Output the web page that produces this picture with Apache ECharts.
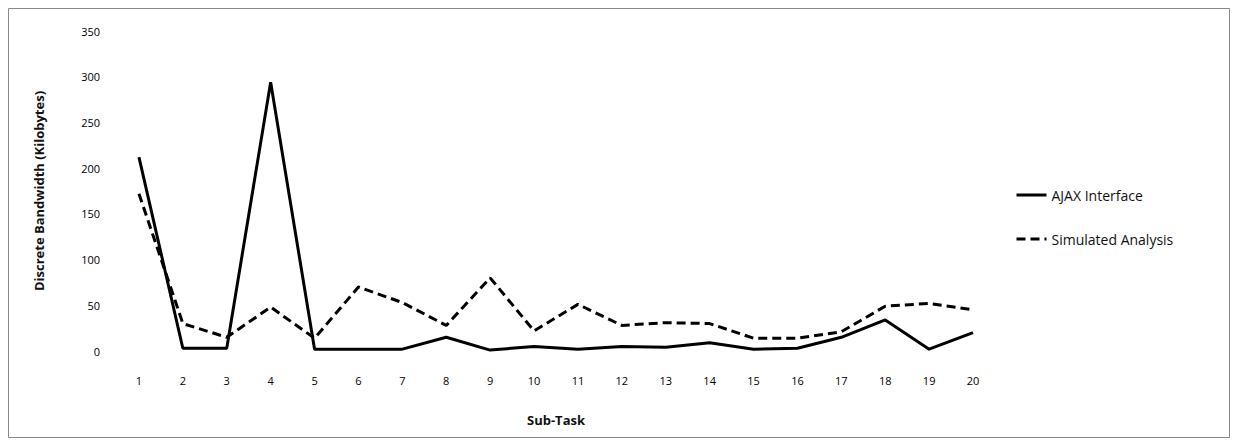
<!DOCTYPE html>
<html>
<head>
<meta charset="utf-8">
<script src="https://cdn.jsdelivr.net/npm/echarts@6/dist/echarts.min.js"></script>
<style>
  html, body { margin: 0; padding: 0; background: #fff; }
  #chart { width: 1238px; height: 443px; }
</style>
</head>
<body>
<div id="chart"></div>
<script>
// sub-task categories and bandwidth (KB)
const subTasks = ["1","2","3","4","5","6","7","8","9","10","11","12","13","14","15","16","17","18","19","20"];
const ajaxInterface = [212, 3, 3, 294, 2, 2, 2, 15, 1, 5, 2, 5, 4, 9, 2, 3, 15, 34, 2, 20];
const simulatedAnalysis = [172, 30, 15, 48, 14, 70, 53, 28, 80, 22, 51, 28, 31, 30, 14, 14, 21, 49, 52, 45];
const yTicks = { min: 0, max: 350, interval: 50 };

const font = "'Open Sans', 'Noto Sans', sans-serif";
const chart = echarts.init(document.getElementById("chart"), null, { renderer: "svg" });

chart.setOption({
  animation: false,
  backgroundColor: "#fff",
  textStyle: { fontFamily: font, color: "#111" },
  graphic: [{
    type: "rect",
    shape: { x: 8.5, y: 8.5, width: 1221, height: 429 },
    style: { fill: "none", stroke: "#888", lineWidth: 1 },
    silent: true
  }],
  grid: { left: 117, right: 243, top: 31, bottom: 92 },
  legend: {
    orient: "vertical",
    left: 1010,
    top: 183,
    itemGap: 30,
    itemWidth: 30,
    itemHeight: 12,
    itemStyle: { opacity: 0 },
    lineStyle: { width: 3 },
    textStyle: { fontFamily: font, fontSize: 14, color: "#111" },
    data: ["AJAX Interface", "Simulated Analysis"]
  },
  xAxis: {
    type: "category",
    data: subTasks,
    boundaryGap: true,
    name: "Sub-Task",
    nameLocation: "middle",
    nameGap: 62,
    nameTextStyle: { fontFamily: font, fontSize: 13, fontWeight: "bold", color: "#111" },
    axisLine: { show: false },
    axisTick: { show: false },
    axisLabel: { fontSize: 11, color: "#000", margin: 24 },
    splitLine: { show: false }
  },
  yAxis: {
    type: "value",
    min: yTicks.min,
    max: yTicks.max,
    interval: yTicks.interval,
    name: "Discrete Bandwidth (Kilobytes)",
    nameLocation: "middle",
    nameGap: 72,
    nameRotate: 90,
    nameTextStyle: { fontFamily: font, fontSize: 13, fontWeight: "bold", color: "#111" },
    axisLine: { show: false },
    axisTick: { show: false },
    axisLabel: { fontSize: 11, color: "#000", margin: 17 },
    splitLine: { show: false }
  },
  series: [
    {
      name: "AJAX Interface",
      type: "line",
      data: ajaxInterface,
      symbol: "none",
      lineStyle: { color: "#000", width: 3, type: "solid" },
      itemStyle: { color: "#000" }
    },
    {
      name: "Simulated Analysis",
      type: "line",
      data: simulatedAnalysis,
      symbol: "none",
      lineStyle: { color: "#000", width: 3, type: [9, 5] },
      itemStyle: { color: "#000" }
    }
  ]
});
</script>
</body>
</html>
